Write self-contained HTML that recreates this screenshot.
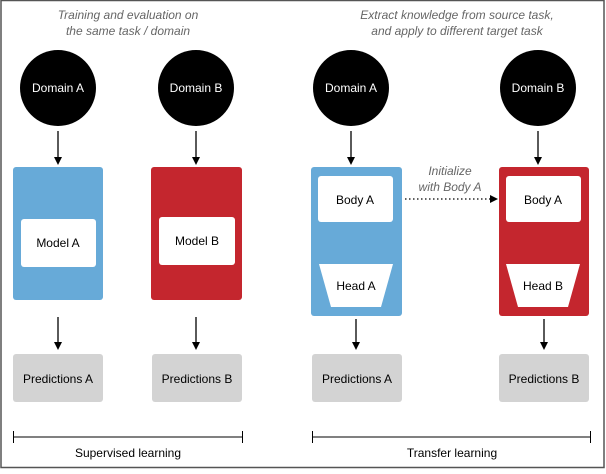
<!DOCTYPE html>
<html><head><style>
body{margin:0;background:#fff}
</style></head><body>
<svg width="606" height="469" viewBox="0 0 606 469" xmlns="http://www.w3.org/2000/svg" font-family="Liberation Sans, sans-serif">
<defs><marker id="ah" markerWidth="8" markerHeight="8" refX="4" refY="4" orient="auto" markerUnits="userSpaceOnUse"><path d="M0,0 L8,4 L0,8 Z" fill="#000"/></marker></defs>
<rect x="1" y="0.5" width="603" height="467" fill="none" stroke="#555" stroke-width="1.5"/>
<g font-style="italic" fill="#666" font-size="12" text-anchor="middle">
<text x="128" y="19">Training and evaluation on</text>
<text x="128" y="35">the same task / domain</text>
<text x="457" y="19">Extract knowledge from source task,</text>
<text x="457" y="35">and apply to  different target task</text>
<text x="450" y="175">Initialize</text>
<text x="450" y="191">with Body A</text>
</g>
<g fill="#000"><circle cx="58" cy="88" r="38"/><circle cx="196" cy="88" r="38"/><circle cx="351" cy="88" r="38"/><circle cx="538" cy="88" r="38"/></g>
<g fill="#fff" font-size="12" text-anchor="middle"><text x="58" y="92">Domain A</text><text x="196" y="92">Domain B</text><text x="351" y="92">Domain A</text><text x="538" y="92">Domain B</text></g>
<g stroke="#000" stroke-width="1.3" marker-end="url(#ah)">
<line x1="58" y1="131" x2="58" y2="161"/><line x1="196" y1="131" x2="196" y2="161"/><line x1="351" y1="131" x2="351" y2="161"/><line x1="538" y1="131" x2="538" y2="161"/>
<line x1="58" y1="317" x2="58" y2="346"/><line x1="196" y1="317" x2="196" y2="346"/><line x1="356" y1="319" x2="356" y2="346"/><line x1="544" y1="319" x2="544" y2="346"/>
<line x1="356" y1="227" x2="356" y2="258"/><line x1="543" y1="227" x2="543" y2="258"/>
<line x1="405" y1="199" x2="494" y2="199" stroke-dasharray="1.5,2.5"/>
</g>
<rect x="13" y="167" width="90" height="133" rx="3" fill="#67aad8"/>
<rect x="151" y="167" width="91" height="133" rx="3" fill="#c4262e"/>
<rect x="311" y="167" width="91" height="149" rx="3" fill="#67aad8"/>
<rect x="499" y="167" width="90" height="149" rx="3" fill="#c4262e"/>
<g fill="#fff">
<rect x="21" y="219" width="75" height="48" rx="3"/><rect x="159" y="217" width="76" height="48" rx="3"/>
<rect x="318" y="176" width="75" height="46" rx="3"/><rect x="506" y="176" width="75" height="46" rx="3"/>
<path d="M319,264 L393,264 L381,307 L331,307 Z"/><path d="M506,264 L580,264 L568,307 L518,307 Z"/>
</g>
<g fill="#000" font-size="12" text-anchor="middle">
<text x="58" y="247">Model A</text><text x="197" y="245">Model B</text>
<text x="355" y="204">Body A</text><text x="543" y="204">Body A</text>
<text x="356" y="290">Head A</text><text x="543" y="290">Head B</text>
</g>
<g fill="#d3d3d3"><rect x="13" y="354" width="90" height="48" rx="3"/><rect x="152" y="354" width="90" height="48" rx="3"/><rect x="312" y="354" width="90" height="48" rx="3"/><rect x="499" y="354" width="90" height="48" rx="3"/></g>
<g fill="#000" font-size="12" text-anchor="middle">
<text x="58" y="383">Predictions A</text><text x="197" y="383">Predictions B</text><text x="357" y="383">Predictions A</text><text x="544" y="383">Predictions B</text>
<text x="128" y="457">Supervised learning</text><text x="452" y="457">Transfer learning</text>
</g>
<g stroke="#000" stroke-width="1">
<line x1="13" y1="437" x2="243" y2="437"/><line x1="13.5" y1="431" x2="13.5" y2="443"/><line x1="242.5" y1="431" x2="242.5" y2="443"/>
<line x1="312" y1="437" x2="591" y2="437"/><line x1="312.5" y1="431" x2="312.5" y2="443"/><line x1="590.5" y1="431" x2="590.5" y2="443"/>
</g>
</svg>
</body></html>
